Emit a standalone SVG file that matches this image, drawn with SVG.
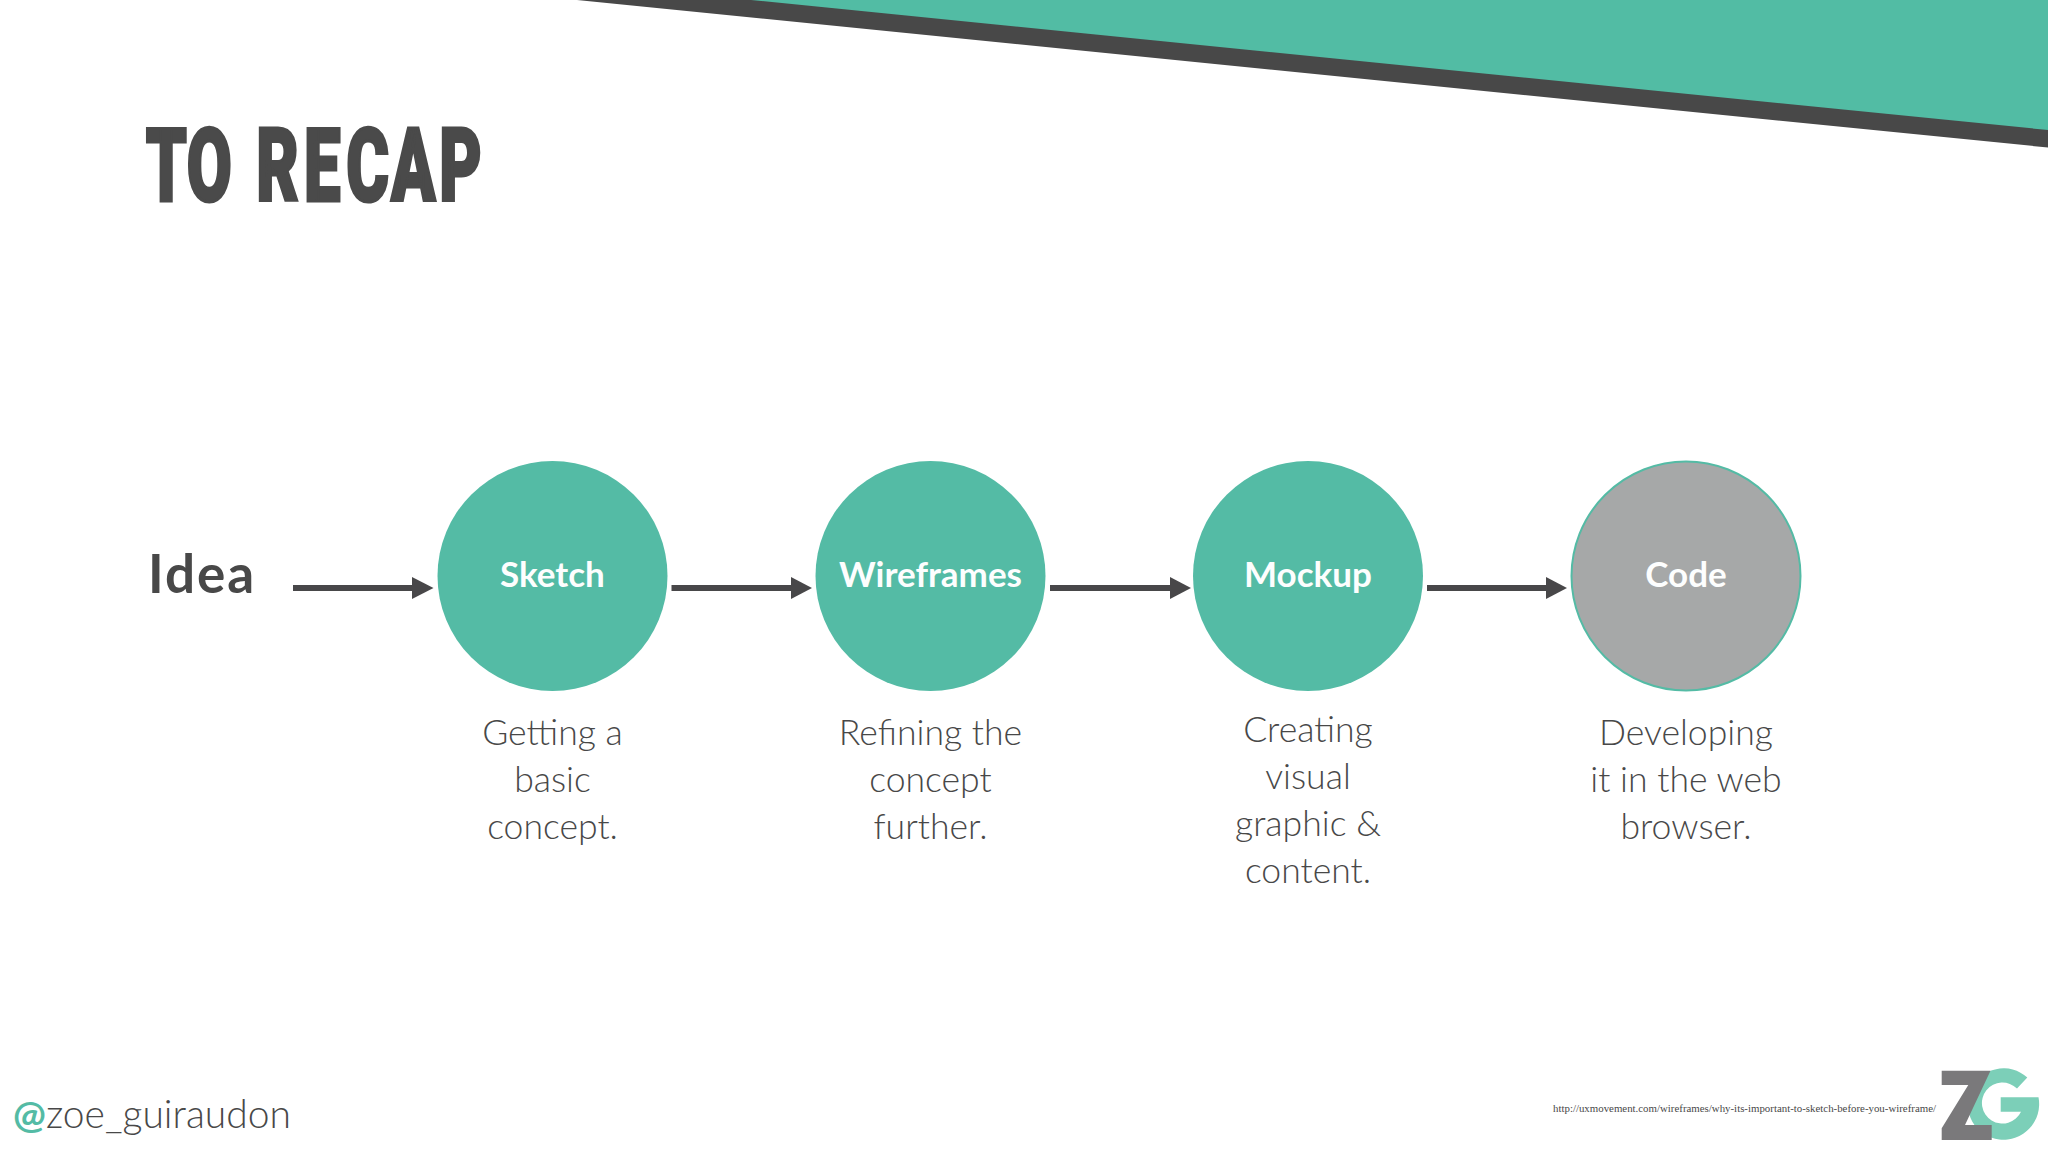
<svg xmlns="http://www.w3.org/2000/svg" width="2048" height="1152" viewBox="0 0 2048 1152">
<style>
.node{fill:#54bba5}
.lbl{font-family:"Lato","Liberation Sans",sans-serif;font-weight:700;font-size:35px;fill:#fdfefe;text-anchor:middle}
.desc{font-family:"Lato","Liberation Sans",sans-serif;font-weight:300;font-size:35.6px;fill:#484848;text-anchor:middle}
.conn{stroke:#484749;stroke-width:6;fill:none}
.head{fill:#484749}
</style>
<rect width="2048" height="1152" fill="#ffffff"/>
<polygon points="577,0 2048,147.5 2048,0" fill="#484848"/>
<polygon points="751,0 2048,130 2048,0" fill="#52bca4"/>
<text id="title" transform="scale(.64,1)" y="201" font-family="Roboto,Liberation Sans,sans-serif" font-weight="900" font-size="102" fill="#4a4a4a" stroke="#4a4a4a" stroke-width="3" x="227.8 291.7 0 400.3 475 541.1 610.9 686.3">TO RECAP</text>
<text id="idea" x="148" y="593" font-family="Lato,sans-serif" font-weight="700" font-size="53" letter-spacing="2" fill="#484848">Idea</text>
<g id="connectors">
<line class="conn" x1="293" y1="588" x2="414" y2="588"/><polygon class="head" points="412,577 433.5,588 412,599"/>
<line class="conn" x1="671.5" y1="588" x2="792" y2="588"/><polygon class="head" points="791,577 812,588 791,599"/>
<line class="conn" x1="1050" y1="588" x2="1171" y2="588"/><polygon class="head" points="1170,577 1191,588 1170,599"/>
<line class="conn" x1="1427" y1="588" x2="1547" y2="588"/><polygon class="head" points="1546,577 1567,588 1546,599"/>
</g>
<g id="sketch"><circle class="node" cx="552.5" cy="576" r="115"/><text class="lbl" x="552.5" y="587">Sketch</text>
<text class="desc" x="552.5" y="745">Getting a</text><text class="desc" x="552.5" y="792">basic</text><text class="desc" x="552.5" y="839">concept.</text></g>
<g id="wireframes"><circle class="node" cx="930.5" cy="576" r="115"/><text class="lbl" x="930.5" y="587">Wireframes</text>
<text class="desc" x="930.5" y="745">Refining the</text><text class="desc" x="930.5" y="792">concept</text><text class="desc" x="930.5" y="839">further.</text></g>
<g id="mockup"><circle class="node" cx="1308" cy="576" r="115"/><text class="lbl" x="1308" y="587">Mockup</text>
<text class="desc" x="1308" y="742">Creating</text><text class="desc" x="1308" y="789">visual</text><text class="desc" x="1308" y="836">graphic &amp;</text><text class="desc" x="1308" y="883">content.</text></g>
<g id="code"><circle cx="1686" cy="576" r="114.5" fill="#a6a8a8" stroke="#54bba5" stroke-width="2"/><text class="lbl" x="1686" y="587">Code</text>
<text class="desc" x="1686" y="745">Developing</text><text class="desc" x="1686" y="792">it in the web</text><text class="desc" x="1686" y="839">browser.</text></g>
<text id="handle" x="13" y="1128" font-family="Lato,sans-serif" font-weight="300" font-size="39" fill="#484848"><tspan fill="#54bba5" font-weight="700">@</tspan>zoe_guiraudon</text>
<text id="url" x="1553" y="1112" font-family="Liberation Serif,serif" font-size="11" fill="#484848" textLength="383" lengthAdjust="spacingAndGlyphs">http://uxmovement.com/wireframes/why-its-important-to-sketch-before-you-wireframe/</text>
<g id="logo">
<path transform="translate(-1,0)" d="M2001.7 1097.3 H2039.5 A35.7 35.7 0 1 1 2028.3 1077.5 L2018 1088.6 A20.5 20.5 0 1 0 2022 1111.7 H2001.7 Z" fill="#7ccfb8"/>
<polygon points="1941.7,1070.7 1990.5,1070.7 1965,1125 1991.7,1125 1991.7,1140 1941.7,1140 1941.7,1128.3 1968.3,1085 1941.7,1085" fill="#7a797b"/>
</g>
</svg>
